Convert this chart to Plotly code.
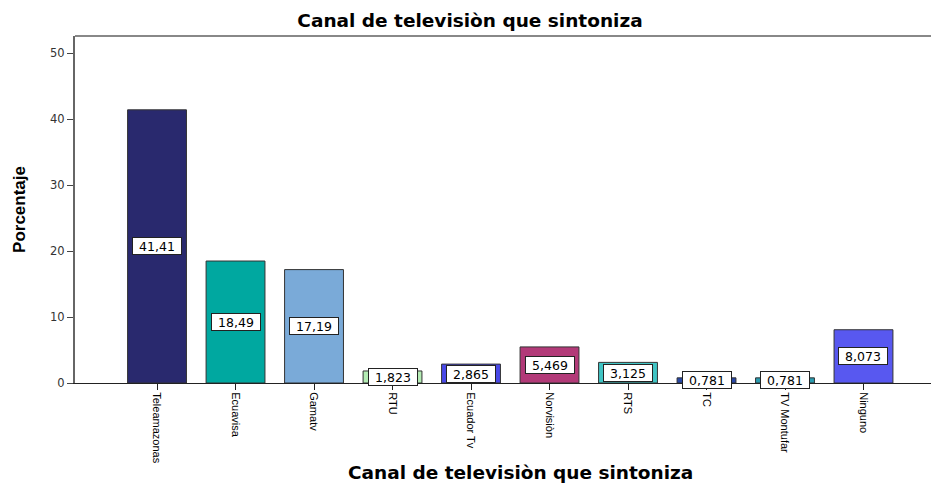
import plotly.graph_objects as go

categories = ["Teleamazonas", "Ecuavisa", "Gamatv", "RTU", "Ecuador Tv",
              "Norvisiòn", "RTS", "TC", "TV Montufar", "Ninguno"]
percentages = [41.41, 18.49, 17.19, 1.823, 2.865, 5.469, 3.125, 0.781, 0.781, 8.073]
value_labels = ["41,41", "18,49", "17,19", "1,823", "2,865", "5,469", "3,125", "0,781", "0,781", "8,073"]
bar_colors = ["#29296e", "#00a8a0", "#7aaad8", "#b4ecb4", "#4848e8",
              "#b23a78", "#40c4c4", "#2848a8", "#2a9cb0", "#5858f0"]
y_ticks = [0, 10, 20, 30, 40, 50]

TITLE_FONT = dict(family="DejaVu Sans, Verdana, sans-serif", size=18.5, color="#000000")

fig = go.Figure()
fig.add_trace(go.Bar(
    x=categories, y=percentages, width=0.75,
    marker=dict(color=bar_colors, line=dict(color="#333333", width=1)),
    hoverinfo="skip",
))

for cat, val, lab in zip(categories, percentages, value_labels):
    fig.add_annotation(
        x=cat, y=val / 2, text=lab, showarrow=False,
        font=dict(family="DejaVu Sans, Verdana, sans-serif", size=12.5, color="#000000"),
        bgcolor="#ffffff", bordercolor="#222222", borderwidth=1, borderpad=1,
        width=46, height=14,
    )

fig.add_annotation(
    xref="paper", yref="paper", x=0.52, y=-0.259, yanchor="middle",
    text="<b>Canal de televisiòn que sintoniza</b>", showarrow=False,
    font=TITLE_FONT,
)

fig.update_layout(
    width=931, height=483,
    margin=dict(l=75, r=0, t=36, b=100, autoexpand=False),
    paper_bgcolor="#ffffff", plot_bgcolor="#ffffff",
    showlegend=False,
    title=dict(
        text="<b>Canal de televisiòn que sintoniza</b>",
        x=470 / 931, xref="container", xanchor="center",
        y=1 - 21 / 483, yref="container", yanchor="middle",
        font=TITLE_FONT,
    ),
    xaxis=dict(
        type="category", range=[-1.045, 9.86], automargin=False,
        showgrid=False, zeroline=False,
        showline=True, linecolor="#222222", linewidth=1,
        ticks="outside", ticklen=6, tickcolor="#222222",
        tickangle=90,
        tickfont=dict(family="Liberation Sans Narrow, Arial Narrow, Liberation Sans, sans-serif", size=11, color="#000000"),
    ),
    yaxis=dict(
        range=[0, 52.6], tickvals=y_ticks, automargin=False,
        showgrid=False, zeroline=False,
        showline=True, linecolor="#666666", linewidth=2, mirror=False,
        ticks="outside", ticklen=6, tickcolor="#444444",
        tickfont=dict(family="DejaVu Sans, Verdana, sans-serif", size=11.5, color="#333333"),
        title=dict(
            text="<b>Porcentaje</b>", standoff=20,
            font=dict(family="Liberation Sans Narrow, Arial Narrow, Liberation Sans, sans-serif", size=17, color="#000000"),
        ),
    ),
)

fig.add_shape(type="line", xref="paper", yref="paper", x0=0, x1=1, y0=1, y1=1,
              line=dict(color="#888888", width=2))

fig.write_html(
    "out.html",
    config={"displayModeBar": False},
    post_script="document.body.style.margin='0';document.body.style.overflow='hidden';",
)
